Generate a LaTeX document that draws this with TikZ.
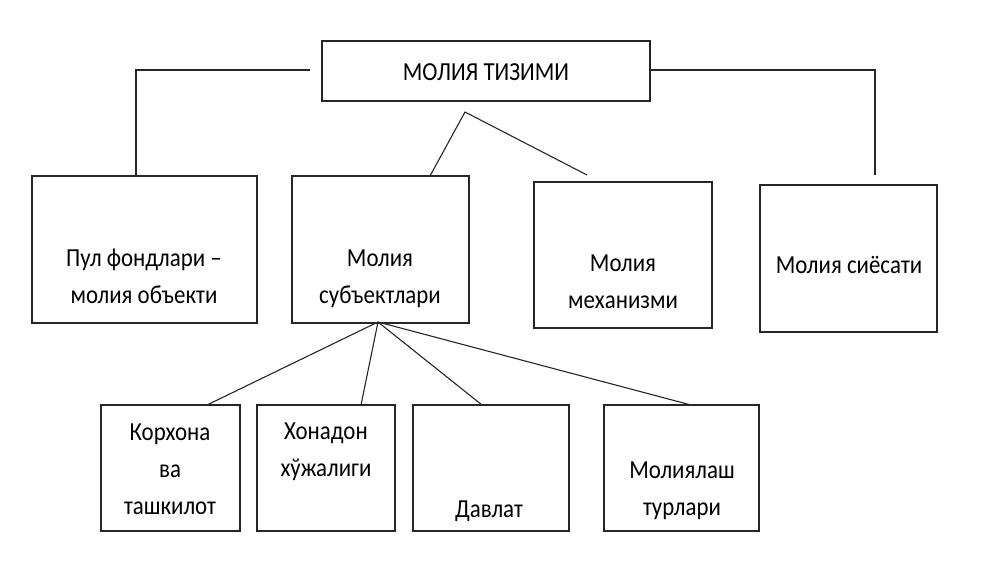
\documentclass[tikz,border=0pt]{standalone}
\usepackage{fontspec}
\setmainfont{Carlito}[FakeStretch=0.88]
\begin{document}
\begin{tikzpicture}[x=1pt,y=-1pt,
  box/.style={draw=black!85,line width=1.3pt,inner sep=0pt},
  txt/.style={align=center,inner sep=0pt,anchor=base,font=\fontsize{26}{37}\selectfont},
  link/.style={draw=black!85,line width=1.1pt}]
\useasboundingbox (0,0) rectangle (1000,562);
\fill[white] (0,0) rectangle (1000,562);
% boxes
\node[box,minimum width=328pt,minimum height=60pt] (top) at (486,71) {};
\node[box,minimum width=225pt,minimum height=147pt] (b1) at (144.5,249.5) {};
\node[box,minimum width=177pt,minimum height=147pt] (b2) at (380.5,249.5) {};
\node[box,minimum width=178pt,minimum height=146pt] (b3) at (623,255) {};
\node[box,minimum width=177pt,minimum height=147pt] (b4) at (848.5,258.5) {};
\node[box,minimum width=139pt,minimum height=126pt] (b5) at (170.5,468) {};
\node[box,minimum width=138pt,minimum height=126pt] (b6) at (326,468) {};
\node[box,minimum width=156pt,minimum height=126pt] (b7) at (491,468) {};
\node[box,minimum width=155pt,minimum height=126pt] (b8) at (681.5,468) {};
% texts
\node[txt] (t0) at (486,80) {МОЛИЯ ТИЗИМИ};
\node[txt] (t1) at (144,303) {Пул фондлари –\\молия объекти};
\node[txt] (t2) at (380,303) {Молия\\субъектлари};
\node[txt] (t3) at (623,308) {Молия\\механизми};
\node[txt] (t4) at (849,273) {Молия сиёсати};
\node[txt] (t5) at (170,514) {Корхона\\ва\\ташкилот};
\node[txt] (t6) at (326,476) {Хонадон\\хўжалиги};
\node[txt] (t7) at (489,517) {Давлат};
\node[txt] (t8) at (682,515) {Молиялаш\\турлари};
% connector points
\coordinate (lstart) at (310,70);
\coordinate (lcorner) at (136,70);
\coordinate (lend) at (136,176);
\coordinate (rcorner) at (875,70);
\coordinate (rend) at (875,175);
\coordinate (apex) at (465,112);
\coordinate (m2) at (430,176);
\coordinate (m3) at (587,175);
\coordinate (sub) at (378,322);
\coordinate (e5) at (207,405);
\coordinate (e6) at (361,405);
\coordinate (e7) at (482,405);
\coordinate (e8) at (691,405);
% connectors
\draw[link] (lstart) -- (lcorner) -- (lend);
\draw[link] (top.east |- rcorner) -- (rcorner) -- (rend);
\draw[link] (m2) -- (apex) -- (m3);
\draw[link] (sub) -- (e5);
\draw[link] (sub) -- (e6);
\draw[link] (sub) -- (e7);
\draw[link] (sub) -- (e8);
\end{tikzpicture}
\end{document}
